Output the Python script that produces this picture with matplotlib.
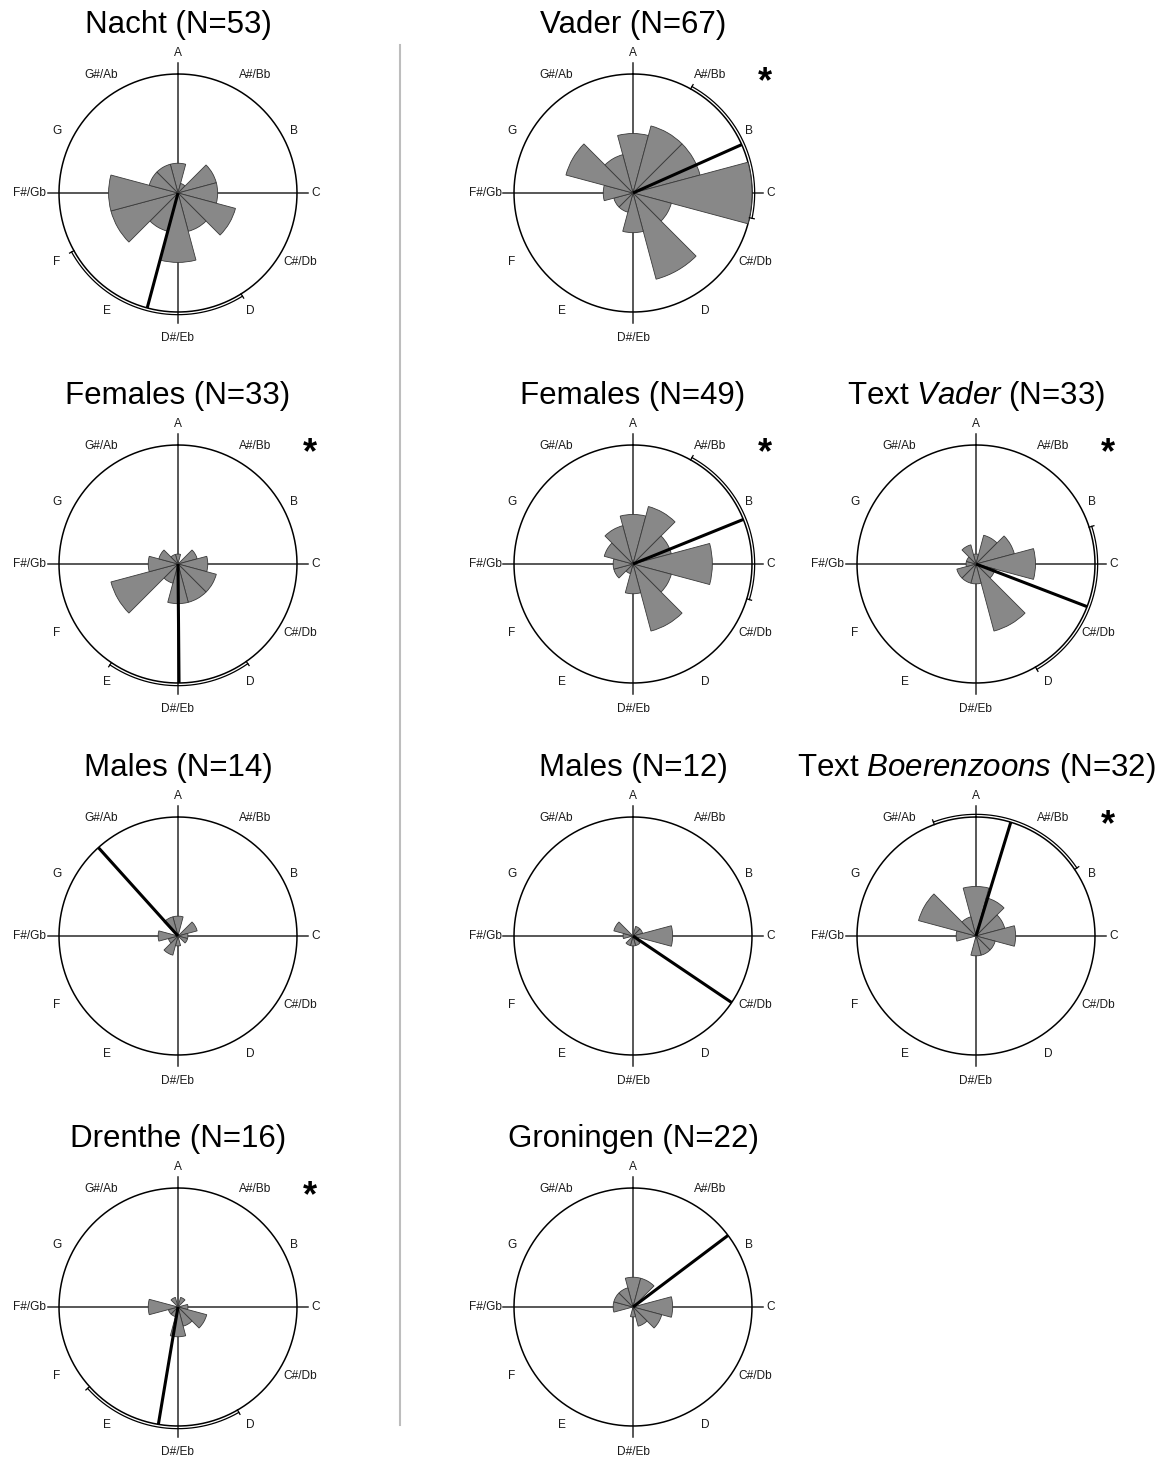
import numpy as np
import matplotlib
matplotlib.use('Agg')
import matplotlib.pyplot as plt
from matplotlib.lines import Line2D

plt.rcParams['font.family'] = ['Liberation Sans', 'DejaVu Sans']
plt.rcParams['mathtext.fontset'] = 'custom'
plt.rcParams['mathtext.rm'] = 'Liberation Sans'
plt.rcParams['mathtext.it'] = 'Liberation Sans:italic'

# ---------------- data ----------------
pitches = ['A', 'A#/Bb', 'B', 'C', 'C#/Db', 'D', 'D#/Eb', 'E', 'F', 'F#/Gb', 'G', 'G#/Ab']

# counts per pitch class (A, A#, B, C, C#, D, D#, E, F, F#, G, G#)
nacht          = [3, 1, 4, 4, 6, 4, 7, 4, 7, 7, 3, 3]
vader          = [6, 7, 7, 12, 4, 9, 4, 2, 2, 3, 7, 4]
females_nacht  = [1, 0, 2, 3, 4, 4, 4, 2, 7, 3, 2, 1]
females_vader  = [5, 6, 4, 8, 4, 7, 3, 1, 2, 2, 3, 4]
text_vader     = [1, 3, 4, 6, 2, 7, 2, 2, 2, 1, 1, 2]
males_nacht    = [2, 0, 2, 1, 1, 0, 1, 2, 1, 2, 0, 2]
males_vader    = [0, 1, 1, 4, 0, 1, 1, 1, 0, 1, 2, 0]
text_boeren    = [5, 4, 3, 4, 2, 2, 2, 0, 0, 2, 6, 2]
drenthe        = [0, 1, 0, 1, 3, 2, 3, 1, 1, 3, 0, 1]
groningen      = [3, 3, 0, 4, 3, 2, 1, 0, 0, 2, 2, 2]

titles = ['Nacht (N=53)', 'Vader (N=67)', 'Females (N=33)', 'Females (N=49)',
          r'Text $\mathit{Vader}$ (N=33)', 'Males (N=14)', 'Males (N=12)',
          r'Text $\mathit{Boerenzoons}$ (N=32)', 'Drenthe (N=16)', 'Groningen (N=22)']

# mean direction (degrees, clockwise from A)
mean_dirs = [195, 66, 179.5, 68, 111, 318, 124, 17, 189.5, 53]
# confidence interval arcs (start, end) in degrees, None if absent
ci_arcs = [(148, 241), (29, 102), (145, 214), (29, 107), (72, 150),
           None, None, (-20.5, 56), (150, 228), None]
significant = [False, True, True, True, True, False, False, True, True, False]

counts_all = [nacht, vader, females_nacht, females_vader, text_vader,
              males_nacht, males_vader, text_boeren, drenthe, groningen]

# ---------------- layout ----------------
W, H = 1169, 1458
fig = plt.figure(figsize=(W / 100, H / 100), dpi=100)
fig.patch.set_facecolor('white')

centers = [(178, 193), (633, 193), (178, 564), (633, 564), (976, 564),
           (178, 936), (633, 936), (976, 936), (178, 1307), (633, 1307)]

RC = 12.0          # circle radius in count units
RPX = 119.0        # circle radius in pixels
RMAX = 13.4
half = RPX * RMAX / RC

# label centre offsets in pixels from the circle centre (dx right, dy down)
label_off = [(0, -140), (77, -118), (116, -62), (138, 0), (122, 69), (72, 118),
             (0, 145), (-71, 118), (-121, 69), (-148, 0), (-121, -62), (-77, -118)]

theta = np.deg2rad(np.arange(12) * 30.0)
width = np.deg2rad(30.0)
full = np.linspace(0, 2 * np.pi, 400)

for i, (cx, cy) in enumerate(centers):
    ax = fig.add_axes([(cx - half) / W, 1 - (cy + half) / H, 2 * half / W, 2 * half / H],
                      projection='polar')
    ax.set_theta_zero_location('N')
    ax.set_theta_direction(-1)
    ax.set_ylim(0, RMAX)
    ax.axis('off')

    # crosshair
    ext = 13.1
    for a in (0, np.pi / 2):
        ax.plot([a, a], [0, ext], color='#2a2a2a', lw=1.1, zorder=1)
        ax.plot([a + np.pi, a + np.pi], [0, ext], color='#2a2a2a', lw=1.1, zorder=1)

    # outer circle
    ax.plot(full, np.full_like(full, RC), color='black', lw=1.1, zorder=2)

    # rose bars
    ax.bar(theta, counts_all[i], width=width, bottom=0, align='center',
           color='#888888', edgecolor='#3a3a3a', linewidth=0.6, zorder=3)

    # mean direction
    m = np.deg2rad(mean_dirs[i])
    ax.plot([m, m], [0, RC], color='black', lw=2.2, solid_capstyle='butt', zorder=5)

    # confidence interval arc (outer parallel line with end ticks)
    if ci_arcs[i] is not None:
        a0, a1 = np.deg2rad(ci_arcs[i][0]), np.deg2rad(ci_arcs[i][1])
        arc = np.linspace(a0, a1, 200)
        rr = RC + 0.27
        ax.plot(arc, np.full_like(arc, rr), color='black', lw=0.9, zorder=4)
        for a in (a0, a1):
            ax.plot([a, a], [RC, RC + 0.5], color='black', lw=0.9, zorder=4)

    # pitch labels
    for k, p in enumerate(pitches):
        dx, dy = label_off[k]
        fig.text((cx + dx) / W, 1 - (cy + dy) / H, p, ha='center', va='center',
                 fontsize=8.6, color='#1a1a1a')

    # title
    fig.text(cx / W, 1 - (cy - 168) / H, titles[i], ha='center', va='center',
             fontsize=22.5, color='black')

    if significant[i]:
        fig.text((cx + 132) / W, 1 - (cy - 110) / H, '*', ha='center', va='center',
                 fontsize=26, fontweight='bold', color='black')

# vertical separator
fig.add_artist(Line2D([400 / W, 400 / W], [1 - 45 / H, 1 - 1425 / H],
                      transform=fig.transFigure, color='#bdbdbd', lw=1.5))

fig.savefig('out.png', dpi=100, facecolor='white')
